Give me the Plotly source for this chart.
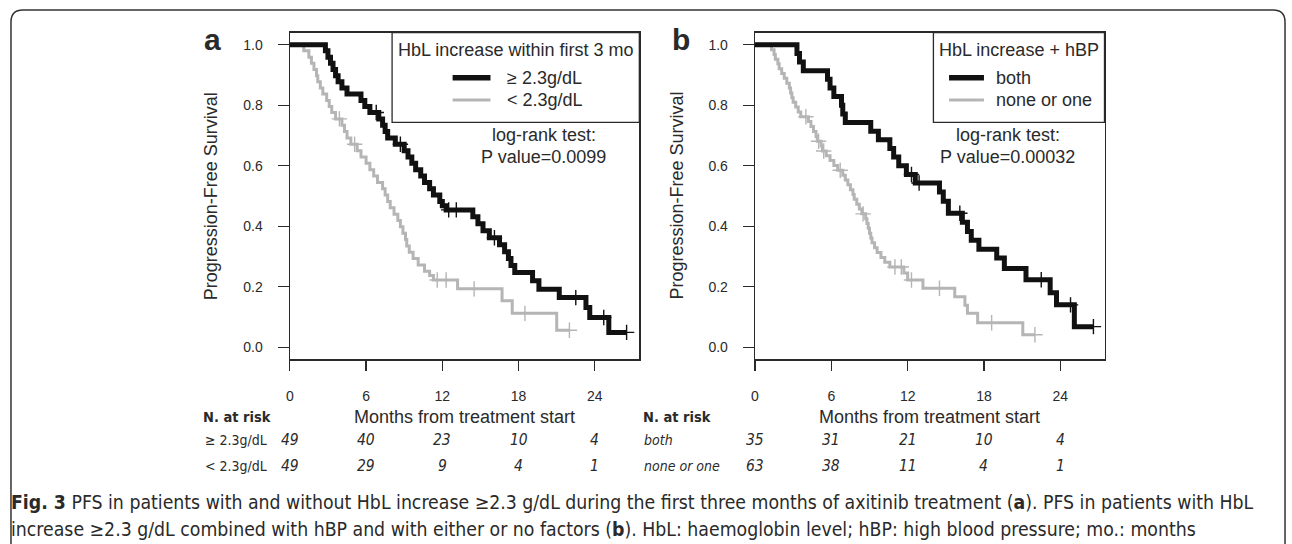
import plotly.graph_objects as go

# ---------------- data ----------------
# Panel a: HbL increase >= 2.3 g/dL (black) vs < 2.3 g/dL (gray)
a_hi_time = [2.8, 3.0, 3.2, 3.4, 3.6, 3.8, 4.1, 4.5, 5.6, 5.9, 6.3, 7.0, 7.3, 7.5, 7.7, 8.3,
             9.0, 9.3, 9.6, 9.9, 10.3, 10.6, 11.0, 11.3, 11.8, 12.0, 12.3, 14.4, 14.8, 15.2,
             15.7, 16.5, 16.9, 17.2, 17.4, 17.7, 19.1, 19.6, 21.2, 23.3, 23.6, 25.1]
a_hi_surv = [0.980, 0.959, 0.939, 0.918, 0.898, 0.878, 0.857, 0.837, 0.816, 0.796, 0.776,
             0.755, 0.734, 0.713, 0.692, 0.671, 0.650, 0.629, 0.608, 0.587, 0.566, 0.545,
             0.524, 0.503, 0.482, 0.468, 0.454, 0.431, 0.408, 0.385, 0.362, 0.339, 0.316,
             0.293, 0.270, 0.247, 0.220, 0.192, 0.164, 0.131, 0.098, 0.049]
a_hi_cens_time = [6.8, 8.7, 12.5, 13.1, 16.1, 22.5, 24.7, 26.5]
a_hi_cens_surv = [0.776, 0.671, 0.454, 0.454, 0.362, 0.164, 0.098, 0.049]

a_lo_time = [1.1, 1.5, 1.7, 1.9, 2.1, 2.2, 2.4, 2.6, 2.9, 3.1, 3.3, 3.6, 4.1, 4.3, 4.5, 4.8,
             5.3, 5.6, 6.0, 6.3, 6.6, 6.9, 7.3, 7.5, 7.7, 7.9, 8.2, 8.5, 8.7, 8.9, 9.1, 9.2,
             9.4, 9.7, 10.1, 10.6, 11.0, 11.3, 13.2, 16.7, 17.5, 21.0]
a_lo_surv = [0.980, 0.959, 0.939, 0.918, 0.898, 0.878, 0.857, 0.837, 0.816, 0.796, 0.776,
             0.755, 0.734, 0.713, 0.692, 0.671, 0.650, 0.629, 0.608, 0.587, 0.566, 0.545,
             0.524, 0.503, 0.482, 0.461, 0.440, 0.419, 0.398, 0.377, 0.356, 0.335, 0.314,
             0.293, 0.272, 0.251, 0.237, 0.222, 0.193, 0.154, 0.112, 0.056]
a_lo_cens_time = [3.9, 5.1, 11.6, 12.3, 14.5, 18.5, 22.0]
a_lo_cens_surv = [0.755, 0.671, 0.222, 0.222, 0.193, 0.112, 0.056]

# Panel b: HbL increase + hBP, both (black) vs none or one (gray)
b_hi_time = [3.3, 3.5, 3.8, 5.7, 5.9, 6.2, 6.8, 6.9, 7.1, 9.1, 9.7, 10.6, 10.9, 11.3, 11.9,
             12.6, 14.5, 14.8, 15.2, 16.3, 16.7, 17.0, 17.6, 19.0, 19.6, 21.3, 23.2, 23.7, 25.1]
b_hi_surv = [0.971, 0.943, 0.914, 0.886, 0.857, 0.829, 0.800, 0.771, 0.743, 0.714, 0.686,
             0.657, 0.629, 0.600, 0.571, 0.543, 0.513, 0.483, 0.443, 0.413, 0.383, 0.354,
             0.324, 0.295, 0.260, 0.223, 0.180, 0.140, 0.068]
b_hi_cens_time = [12.3, 12.9, 16.1, 22.5, 24.8, 26.6]
b_hi_cens_surv = [0.571, 0.543, 0.443, 0.223, 0.140, 0.068]

b_lo_time = [1.3, 1.5, 1.6, 1.8, 1.9, 2.1, 2.3, 2.5, 2.7, 2.8, 2.9, 3.0, 3.2, 3.4, 3.6, 4.2,
             4.4, 4.6, 4.8, 4.9, 5.2, 5.3, 5.6, 5.9, 6.2, 6.5, 6.9, 7.1, 7.3, 7.5, 7.7, 7.8,
             8.0, 8.2, 8.4, 8.7, 8.8, 8.9, 9.0, 9.1, 9.2, 9.4, 9.6, 9.9, 10.2, 10.6, 11.7,
             12.0, 13.2, 15.7, 16.5, 16.7, 17.5, 21.05]
b_lo_surv = [0.984, 0.968, 0.952, 0.937, 0.921, 0.905, 0.889, 0.873, 0.857, 0.841, 0.825,
             0.810, 0.794, 0.778, 0.762, 0.746, 0.730, 0.713, 0.697, 0.681, 0.665, 0.649,
             0.633, 0.617, 0.601, 0.585, 0.569, 0.553, 0.537, 0.521, 0.505, 0.489, 0.473,
             0.457, 0.441, 0.425, 0.409, 0.393, 0.377, 0.361, 0.345, 0.329, 0.313, 0.297,
             0.281, 0.265, 0.245, 0.222, 0.195, 0.167, 0.139, 0.112, 0.081, 0.041]
b_lo_cens_time = [4.0, 5.0, 5.4, 6.7, 8.5, 11.0, 11.5, 12.3, 14.5, 18.6, 22.0]
b_lo_cens_surv = [0.762, 0.681, 0.649, 0.585, 0.441, 0.265, 0.265, 0.222, 0.195, 0.081, 0.041]

# Number at risk
risk_times = [0, 6, 12, 18, 24]
a_hi_risk = [49, 40, 23, 10, 4]
a_lo_risk = [49, 29, 9, 4, 1]
b_hi_risk = [35, 31, 21, 10, 4]
b_lo_risk = [63, 38, 11, 4, 1]

y_ticks = [0.0, 0.2, 0.4, 0.6, 0.8, 1.0]
x_ticks = [0, 6, 12, 18, 24]

# ---------------- layout helpers ----------------
W, H = 1292, 544
def fx(p):
    return p / W
def fy(p):
    return 1 - p / H

BLACK = "#111111"
GRAY = "#b5b5b5"
TXT = "#2a2a2a"
FONT = "Liberation Sans, Arial, sans-serif"
NARROW = "Liberation Sans Narrow, Arial Narrow, DejaVu Sans Condensed, Liberation Sans, sans-serif"

fig = go.Figure()

def km(times, surv, cens_t, cens_s, color, width, xa, ya):
    end = max(max(times), max(cens_t))
    xs = [0] + list(times) + [end]
    ys = [1.0] + list(surv) + [surv[-1]]
    fig.add_trace(go.Scatter(x=xs, y=ys, mode="lines", line=dict(color=color, width=width, shape="hv"),
                             xaxis=xa, yaxis=ya, showlegend=False, hoverinfo="skip"))
    fig.add_trace(go.Scatter(x=cens_t, y=cens_s, mode="markers",
                             marker=dict(symbol="cross-thin", size=11, line=dict(color=color, width=1.4)),
                             xaxis=xa, yaxis=ya, showlegend=False, hoverinfo="skip"))

km(a_lo_time, a_lo_surv, a_lo_cens_time, a_lo_cens_surv, GRAY, 3, "x", "y")
km(a_hi_time, a_hi_surv, a_hi_cens_time, a_hi_cens_surv, BLACK, 5, "x", "y")
km(b_lo_time, b_lo_surv, b_lo_cens_time, b_lo_cens_surv, GRAY, 3, "x2", "y2")
km(b_hi_time, b_hi_surv, b_hi_cens_time, b_hi_cens_surv, BLACK, 5, "x2", "y2")

xcommon = dict(range=[0, 27.5], tickvals=x_ticks, ticks="outside", ticklen=10, tickwidth=1.3,
               tickcolor=TXT, showline=True, mirror=True, linecolor=TXT, linewidth=1.3,
               showgrid=False, zeroline=False, tickfont=dict(family=FONT, size=14, color=TXT),
               ticklabelstandoff=14, fixedrange=True)
ycommon = dict(range=[-0.04, 1.04], tickvals=y_ticks, tickformat=".1f", ticks="outside", ticklen=11,
               tickwidth=1.3, tickcolor=TXT, showline=True, mirror=True, linecolor=TXT, linewidth=1.3,
               showgrid=False, zeroline=False, tickfont=dict(family=FONT, size=14, color=TXT),
               ticklabelstandoff=12, fixedrange=True)

ydom = [fy(359.3), fy(32.7)]
fig.update_layout(
    width=W, height=H, margin=dict(l=0, r=0, t=0, b=0),
    paper_bgcolor="white", plot_bgcolor="white",
    xaxis=dict(domain=[fx(286.7), fx(637.3)], anchor="y", **xcommon),
    yaxis=dict(domain=ydom, anchor="x", **ycommon),
    xaxis2=dict(domain=[fx(753.3), fx(1104.3)], anchor="y2", **xcommon),
    yaxis2=dict(domain=ydom, anchor="x2", **ycommon),
    font=dict(family=FONT, color=TXT),
)

shapes = []
ann = []

def text(x, y, s, size=18, xanchor="center", yanchor="middle", family=FONT, angle=0, xref="paper", color=TXT):
    ann.append(dict(x=(fx(x) if xref == "paper" else x), y=fy(y), xref=xref, yref="paper", text=s,
                    showarrow=False, xanchor=xanchor, yanchor=yanchor, textangle=angle,
                    font=dict(family=family, size=size, color=color)))

panels = [
    dict(off=0.0, xref="x", letter="a", title="HbL increase within first 3 mo",
         labels=["\u2265 2.3g/dL", "< 2.3g/dL"], box_l=389.3, line=(450, 488), lab_x=503,
         lr_x=541.5, p="P value=0.0099", rows=("\u2265 2.3g/dL", "< 2.3g/dL"),
         risk=(a_hi_risk, a_lo_risk), nrisk_x=198),
    dict(off=466.6, xref="x2", letter="b", title="HbL increase + hBP",
         labels=["both", "none or one"], box_l=932.3, line=(948, 983), lab_x=992.7,
         lr_x=1007, p="P value=0.00032", rows=("both", "none or one"),
         risk=(b_hi_risk, b_lo_risk), nrisk_x=638.5),
]

for pnl in panels:
    o = pnl["off"]
    right = 637.3 + o
    # panel letter
    text(209 + o + (4 if pnl["letter"] == "b" else 0), 40, "<b>%s</b>" % pnl["letter"], size=30)
    # y title
    text(208 + o, 196, "Progression-Free Survival", size=18, angle=-90)
    # x title
    text(462 + o, 417, "Months from treatment start", size=18)
    # legend box
    shapes.append(dict(type="rect", xref="paper", yref="paper", x0=fx(pnl["box_l"]), x1=fx(right),
                       y0=fy(122.3), y1=fy(32.7), line=dict(color=TXT, width=1.3), fillcolor="white",
                       layer="above"))
    text((pnl["box_l"] + right) / 2, 50, pnl["title"], size=18)
    for yy, col, wd, lab in [(77.7, BLACK, 5.5, pnl["labels"][0]), (100, GRAY, 3, pnl["labels"][1])]:
        shapes.append(dict(type="line", xref="paper", yref="paper", x0=fx(pnl["line"][0]),
                           x1=fx(pnl["line"][1]), y0=fy(yy), y1=fy(yy), line=dict(color=col, width=wd)))
        text(pnl["lab_x"], yy, lab, size=18, xanchor="left")
    # log-rank text
    text(pnl["lr_x"], 135, "log-rank test:", size=18)
    text(pnl["lr_x"], 157, pnl["p"], size=18)
    # risk table
    text(pnl["nrisk_x"], 417, "<b>N. at risk</b>", size=14.5, xanchor="left", family=NARROW)
    for yy, lab, vals in [(440, pnl["rows"][0], pnl["risk"][0]), (466, pnl["rows"][1], pnl["risk"][1])]:
        text(pnl["nrisk_x"] + 1.5, yy, lab if pnl["letter"] == "a" else "<i>%s</i>" % lab,
             size=14, xanchor="left", family=NARROW)
        for t, v in zip(risk_times, vals):
            text(t, yy, "<i>%d</i>" % v, size=15.5, family=NARROW, xref=pnl["xref"])

# caption
text(5, 502, "<b>Fig. 3</b> PFS in patients with and without HbL increase \u22652.3 g/dL during the first three "
     "months of axitinib treatment (<b>a</b>). PFS in patients with HbL", size=19.3, xanchor="left", family=NARROW)
text(5, 529, "increase \u22652.3 g/dL combined with hBP and with either or no factors (<b>b</b>). HbL: "
     "haemoglobin level; hBP: high blood pressure; mo.: months", size=19.3, xanchor="left", family=NARROW)

# outer rounded frame
x0, x1, y0, y1, r = 7, 1285, 10, 580, 12
path = ("M {a},{b} L {a},{c} Q {a},{d} {e},{d} L {f},{d} Q {g},{d} {g},{c} L {g},{b}".format(
    a=fx(x0), b=fy(y1), c=fy(y0 + r), d=fy(y0), e=fx(x0 + r), f=fx(x1 - r), g=fx(x1)))
shapes.append(dict(type="path", xref="paper", yref="paper", path=path, line=dict(color="#333333", width=1.5)))

fig.update_layout(shapes=shapes, annotations=ann)
fig.write_html("out.html", config={"displayModeBar": False, "staticPlot": True},
               post_script="document.body.style.margin='0';document.body.style.overflow='hidden';")
